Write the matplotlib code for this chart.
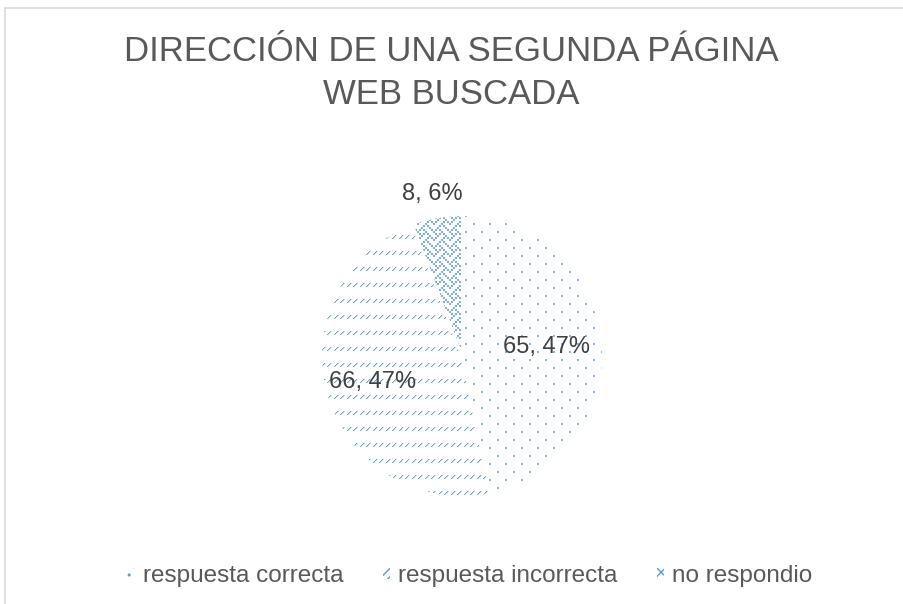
import numpy as np
import matplotlib
matplotlib.use("Agg")
import matplotlib.pyplot as plt
import matplotlib.colors as mcolors
from matplotlib.patches import Patch, Rectangle

plt.rcParams['font.family'] = ['Liberation Sans', 'DejaVu Sans']

# data
title_lines = ["DIRECCIÓN DE UNA SEGUNDA PÁGINA", "WEB BUSCADA"]
categories = ["respuesta correcta", "respuesta incorrecta", "no respondio"]
counts = [65, 66, 8]

blue = '#5B9BD5'
W, H = 904, 604

fig = plt.figure(figsize=(W / 100, H / 100), dpi=100)

# light chart frame (right/bottom edges run off the picture)
fig.add_artist(Rectangle((5.5 / W, -0.1), 1.0, (H - 7.5) / H + 0.1,
                         transform=fig.transFigure, fill=False,
                         edgecolor='#D9D9D9', linewidth=1.2))

for i, line in enumerate(title_lines):
    fig.text(451 / W, 1 - (61 + 43 * i) / H, line, ha='center', va='baseline',
             fontsize=25, color='#595959')

# pie axes, 282 px square
N = 282
ax = fig.add_axes([321 / W, 107 / H, N / W, N / H])
wedges, _ = ax.pie(counts, startangle=90, counterclock=False,
                   wedgeprops=dict(facecolor='white', linewidth=0))
ax.set_xlim(-1, 1)
ax.set_ylim(-1, 1)
ax.set_aspect('equal')
ax.axis('off')


# office-like pattern fills: small tiles of alpha values
def dots_tile():
    t = np.zeros((16, 16))
    t[0:2, 0:2] = 0.75
    t[8:10, 8:10] = 0.75
    return t


def dash_tile():
    t = np.zeros((16, 13))
    for cs in (0, 6):
        for k in range(4):
            t[3 - k + 4, cs + k] = 0.9
            if cs + k + 1 < 13:
                t[3 - k + 4, cs + k + 1] = 0.35
    return t


def weave_tile():
    rows = [0x88, 0x54, 0x22, 0x45, 0x88, 0x14, 0x22, 0x51]
    bits = np.array([[(r >> (7 - b)) & 1 for b in range(8)] for r in rows], float)
    return np.kron(bits, np.ones((2, 2))) * 0.8


def texture(tile, n=N, color=blue):
    reps = (n // tile.shape[0] + 1, n // tile.shape[1] + 1)
    mask = np.tile(tile, reps)[:n, :n]
    rgba = np.zeros((n, n, 4))
    rgba[..., :3] = mcolors.to_rgb(color)
    rgba[..., 3] = mask
    return rgba


tiles = [dots_tile(), dash_tile(), weave_tile()]
for w, tile in zip(wedges, tiles):
    im = ax.imshow(texture(tile), extent=(-1, 1, -1, 1), interpolation='nearest', zorder=2)
    im.set_clip_path(w)

# white separators between slices
ax.pie(counts, startangle=90, counterclock=False,
       wedgeprops=dict(facecolor='none', edgecolor='white', linewidth=1.5, zorder=3))
ax.set_xlim(-1, 1)
ax.set_ylim(-1, 1)

# data labels "value, pct%"
total = sum(counts)
label_dist = [0.6, 0.66, 1.17]
for w, v, d in zip(wedges, counts, label_dist):
    mid = np.deg2rad((w.theta1 + w.theta2) / 2)
    ax.text(d * np.cos(mid), d * np.sin(mid), "{}, {}%".format(v, round(v / total * 100)),
            ha='center', va='center', fontsize=17, color='#404040', zorder=5)

# legend
hatches = ['..', '////', 'xxx']
handles = [Patch(facecolor='white', edgecolor=blue, linewidth=0, hatch=h, label=c)
           for h, c in zip(hatches, categories)]
fig.legend(handles=handles, loc='center', bbox_to_anchor=(470 / W, 1 - 576 / H),
           ncol=3, frameon=False, fontsize=17.5, labelcolor='#595959',
           handlelength=0.3, handleheight=0.3, handletextpad=0.35,
           columnspacing=1.6, borderpad=0)

fig.savefig('out.png', dpi=100)
